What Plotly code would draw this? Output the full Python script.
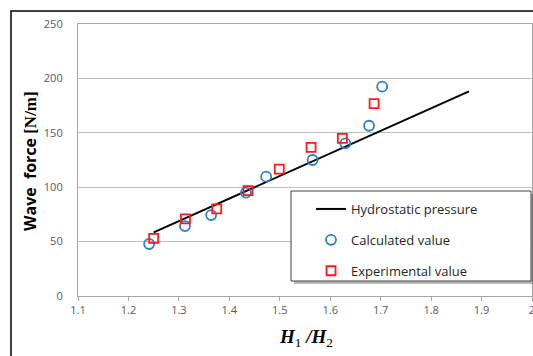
import plotly.graph_objects as go

# Data
hydro_x = [1.25, 1.875]
hydro_y = [58.5, 188.0]

calc_x = [1.241, 1.312, 1.364, 1.433, 1.473, 1.565, 1.630, 1.677, 1.703]
calc_y = [47.8, 64.3, 74.4, 95.0, 109.7, 125.0, 140.3, 156.5, 192.4]

exp_x = [1.250, 1.313, 1.375, 1.437, 1.499, 1.562, 1.624, 1.687]
exp_y = [53.0, 70.8, 80.0, 96.8, 116.7, 136.6, 144.9, 176.8]

x_ticks = [1.1, 1.2, 1.3, 1.4, 1.5, 1.6, 1.7, 1.8, 1.9, 2.0]
x_tick_labels = ["1.1", "1.2", "1.3", "1.4", "1.5", "1.6", "1.7", "1.8", "1.9", "2"]
y_ticks = [0, 50, 100, 150, 200, 250]

names = ["Hydrostatic pressure", "Calculated value", "Experimental value"]

W, H = 533, 356
L, R, T, B = 78, 532, 24, 296
pw, ph = R - L, B - T

def px(x):
    return (x - L) / pw

def py(y):
    return (B - y) / ph

BLUE = "#2a80cc"
RED = "#ff1a1a"

fig = go.Figure()
fig.add_trace(go.Scatter(x=hydro_x, y=hydro_y, mode="lines", name=names[0],
                         line=dict(color="black", width=2), legendgroup="a"))
fig.add_trace(go.Scatter(x=calc_x, y=calc_y, mode="markers", name=names[1],
                         marker=dict(symbol="circle-open", size=10, color=BLUE,
                                     line=dict(width=1.8, color=BLUE)),
                         legendgroup="b"))
fig.add_trace(go.Scatter(x=exp_x, y=exp_y, mode="markers", name=names[2],
                         marker=dict(symbol="square-open", size=9, color=RED,
                                     line=dict(width=1.8, color=RED)),
                         legendgroup="c"))

tickfont = dict(family="Open Sans", size=11, color="#595959")

fig.update_layout(
    width=W, height=H,
    margin=dict(l=L, r=W - R, t=T, b=H - B, autoexpand=False),
    paper_bgcolor="white", plot_bgcolor="white",
    showlegend=True,
    legend=dict(x=px(311), y=py(194), xanchor="left", yanchor="top",
                bgcolor="rgba(0,0,0,0)", borderwidth=0,
                font=dict(family="Open Sans", size=13, color="#262626"),
                traceorder="grouped", tracegroupgap=11),
    xaxis=dict(range=[1.1, 2.0], tickvals=x_ticks, ticktext=x_tick_labels,
               showgrid=False, zeroline=False, showline=True, linecolor="#a6a6a6",
               linewidth=1.2, mirror=True, ticks="outside", ticklen=4,
               tickcolor="#a6a6a6", tickfont=tickfont, ticklabeloverflow="allow",
               automargin=False),
    yaxis=dict(range=[0, 250], tickvals=y_ticks, showgrid=True, gridcolor="#bfbfbf",
               gridwidth=1, zeroline=False, showline=True, linecolor="#a6a6a6",
               linewidth=1.2, mirror=True, ticks="", ticklabelstandoff=12,
               tickfont=tickfont, automargin=False),
    shapes=[
        # outer chart frame
        dict(type="rect", xref="paper", yref="paper",
             x0=px(11), x1=px(545), y0=py(370), y1=py(11),
             line=dict(color="black", width=1.5), fillcolor="rgba(0,0,0,0)", layer="above"),
        # legend shadow
        dict(type="rect", xref="paper", yref="paper",
             x0=px(294), x1=px(534), y0=py(284), y1=py(194),
             line=dict(width=0), fillcolor="rgba(0,0,0,0.28)", layer="above"),
        # legend box
        dict(type="rect", xref="paper", yref="paper",
             x0=px(291), x1=px(531), y0=py(281), y1=py(191),
             line=dict(color="#404040", width=1), fillcolor="white", layer="above"),
    ],
    annotations=[
        dict(text="<b>Wave  force <span style='font-family:Liberation Serif;font-size:17px'>[N/m]</span></b>",
             xref="paper", yref="paper", x=px(30), y=py(161), textangle=-90,
             showarrow=False, font=dict(family="Open Sans", size=16, color="black"),
             xanchor="center", yanchor="middle"),
        dict(text="<b><i>H</i></b><sub>1</sub><b><i> /H</i></b><sub>2</sub>",
             xref="paper", yref="paper", x=px(306), y=py(338), showarrow=False,
             font=dict(family="Liberation Serif", size=19, color="black"),
             xanchor="center", yanchor="middle"),
    ],
)

fig.write_html("out.html", config={"displayModeBar": False},
               post_script="document.body.style.margin='0';document.body.style.overflow='hidden';")
